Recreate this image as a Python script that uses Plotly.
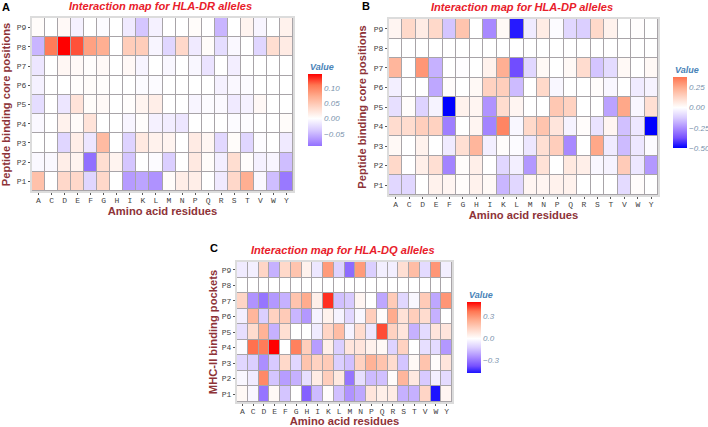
import plotly.graph_objects as go

residues = list("ACDEFGHIKLMNPQRSTVWY")
positions = ["P9", "P8", "P7", "P6", "P5", "P4", "P3", "P2", "P1"]

dr_values = [
    [0.3, 0, 0.5, -1, 0, -0.3, 0, -1.5, -4, -1, 0, 0, 0.3, 0, -5, 0, 1, -0.7, 0, 1.2],
    [-5, 10.5, 14.5, 12, 8, 7, 0, 4.5, 4.5, -0.7, -3, 3.5, -1.5, 0.3, -2.5, -0.5, 0, -3, 3, 1.8],
    [-1.8, 0, 0.7, 0.5, 0.2, 0.5, 0, 0.6, -0.8, 0, -0.6, 0, -0.6, -2, 0, -1.2, 0, 0, 0, 0],
    [-1, 0, 0, 0.2, 0.3, 0.2, 0, 0, -0.3, -0.3, 0, 0, 0, 0, -1, -0.5, -0.3, 0, 0, 0],
    [-2.5, 0, -1.8, 2.5, 0.3, 0.5, 0, 0.2, 1, 1.5, 0, 0, -0.7, -0.3, -0.4, -1.5, -1, 0.6, 0, 0],
    [-0.5, 0, 1.2, 0.4, 2.5, 0, 0, -0.7, 0.2, -1, -1.3, -1.8, 0, 0, 0, -0.3, -0.2, 0, 0, 0.3],
    [0, 0, -3, 1.5, -1.8, 6, 0, -3.2, 2, 1.2, 1, 0, 1.8, 0.8, -2.8, 0.3, -3, -0.2, 0, -1.5],
    [-0.5, -0.5, 1.5, 1, -9, 3, 1, -4, 0, -0.3, -3.5, 0, 2, 0.3, -1.2, 3, 0.2, -1, -0.7, -4.5],
    [5.5, 0, 3.5, 3.5, -3, 3.5, 0, -6.5, -6, -7, 0.3, 1.5, 1.5, 0, -1.5, 3.5, 7, -0.5, -4.5, -8.5],
]
dp_values = [
    [3, 12, 6, 12, -14, 18, 0, -26, 2, -46, -5, 6, -1, -10, -12, 12, 4, 0, 0.5, 0],
    [0] * 20,
    [22, 0, 30, -18, 0, -0.5, 0, 4, 24, -38, -10, 2, 0, 2, 11, -14, -9, 2, 0, 2],
    [-4, 0, 0, -20, 1, 0, 2, 14, 15, -16, 0, 12, -2, 0, 0, 1, -2, 0, -5, -3],
    [-8, 1, -11, -3, -50, 4, 3, -24, 11, 3, 0, 0, 17, 14, 0, 0, -21, 26, -2, 10],
    [11, 11, 15, 14, -28, 0, 3, -27, 34, -2, 12, 18, 8, -3, 1, -7, 3, -15, -6, -50],
    [2, 0, 4, 0, -5, 10, 22, -4, 1, -1, -6, 10, 15, -26, 0, 26, -5, -16, -6, -1],
    [12, 0, 5, 10, -27, 1, 5, 0, -10, -4, -23, 9, 0, 7, 5, -2, -3, 16, -6, -23],
    [-10, -10, 0, 4, 3, 1, 4, 2, -17, -10, 3, 3, 4, 4, 0, 0, 0, -9, 1, 0],
]
dq_values = [
    [-5, -4, 13, -18, 12, 18, 4, -6, 29, -11, -32, 29, -12, -4, -4, 10, 20, -9, 30, -4],
    [0] * 20,
    [13, -24, -30, -23, -18, 18, 25, 5, 45, -15, -13, 3, 0, -20, 16, -10, -2, 16, -20, 30],
    [-4, 22, -12, 14, 16, -17, -23, -3, 4, -3, -10, -2, 15, 1, 25, 9, 15, 11, -18, 0],
    [-8, 11, 23, -18, 10, 0, 0, -5, 13, 20, -3, 11, -6, 42, 14, 8, -18, -9, 8, 8],
    [-1, 38, 36, 50, 0, 35, 15, -22, 5, -12, 8, 8, 4, 2, -11, 14, 0, -8, -9, -23],
    [-10, -12, -25, -13, 12, -10, 18, 14, 16, -12, -15, 14, 23, 18, 11, -14, 2, 18, 1, 8],
    [-2, -5, 33, -14, -22, -18, -8, 6, 15, 7, -30, -8, -16, -15, 1, 22, 7, -13, -4, -9],
    [2, -2, -30, 2, -14, 0, -34, -16, 1, -15, -24, -20, 8, 5, 6, -18, -18, 13, -47, 3],
]

W, H = 708, 427
RAMP = [(-1, (0, 0, 255)), (-0.75, (118, 80, 255)), (-0.5, (172, 142, 255)), (-0.25, (218, 205, 255)),
        (0, (255, 255, 255)), (0.25, (255, 215, 200)), (0.5, (255, 172, 142)), (0.75, (255, 118, 82)), (1, (255, 0, 0))]


def color_at(t):
    for (a, ca), (b, cb) in zip(RAMP, RAMP[1:]):
        if a <= t <= b:
            f = (t - a) / (b - a)
            return "rgb(%d,%d,%d)" % tuple(round(x + (y - x) * f) for x, y in zip(ca, cb))
    return "rgb(255,255,255)"


def scale_for(lo, hi):
    m = max(abs(lo), abs(hi))
    ts = sorted({lo / m, hi / m} | {r[0] for r in RAMP if lo / m < r[0] < hi / m})
    return [[(t * m - lo) / (hi - lo), color_at(t)] for t in ts]


panels = [
    dict(z=dr_values, unit=0.01, box=(32, 293, 18, 191), cb=(308, 322, 74, 146), rng=(-0.09, 0.145),
         ticks=[-0.05, 0, 0.05, 0.10], fmt=".2f", title="Interaction map for HLA-DR alleles", tx=160, ty=6,
         ytitle="Peptide binding core positions", xtitle="Amino acid residues", letter="A", lx=6, ly=7, ystand=5),
    dict(z=dp_values, unit=0.01, box=(389, 658, 19, 195), cb=(673, 687, 77, 148), rng=(-0.5, 0.38),
         ticks=[-0.5, -0.25, 0, 0.25], fmt=".2f", title="Interaction map for HLA-DP alleles", tx=522, ty=7,
         ytitle="Peptide binding core positions", xtitle="Amino acid residues", letter="B", lx=366, ly=6, ystand=5),
    dict(z=dq_values, unit=0.01, box=(237, 452, 262, 402), cb=(467, 481, 302, 373), rng=(-0.47, 0.5),
         ticks=[-0.3, 0, 0.3], fmt=".1f", title="Interaction map for HLA-DQ alleles", tx=343, ty=250,
         ytitle="MHC-II binding pockets", xtitle="Amino acid residues", letter="C", lx=214, ly=248, ystand=2),
]

BROWN = "#8e3338"
fig = go.Figure()
annots = []
layout = {}
for i, p in enumerate(panels, 1):
    x0, x1, y0, y1 = p["box"]
    cx0, cx1, cy0, cy1 = p["cb"]
    xa, ya = f"x{i}", f"y{i}"
    fig.add_trace(go.Heatmap(
        z=[[v * p["unit"] for v in row] for row in p["z"]],
        x=residues, y=positions, xaxis=xa, yaxis=ya, xgap=1, ygap=1,
        zmin=p["rng"][0], zmax=p["rng"][1], colorscale=scale_for(*p["rng"]),
        hovertemplate="%{x} %{y}: %{z}<extra></extra>",
        colorbar=dict(
            x=cx0 / W, xanchor="left", xpad=0, ypad=0, y=1 - cy1 / H, yanchor="bottom",
            len=(cy1 - cy0) / H, lenmode="fraction", thickness=cx1 - cx0, thicknessmode="pixels",
            outlinewidth=0, ticks="", tickvals=p["ticks"], tickformat=p["fmt"],
            tickfont=dict(family="Liberation Sans", size=8, style="italic", color="#7a93ad"),
        ),
    ))
    suffix = "" if i == 1 else str(i)
    layout["xaxis" + suffix] = dict(
        domain=[x0 / W, x1 / W], anchor=ya, categoryorder="array", categoryarray=residues,
        ticks="outside", ticklen=2, tickcolor="#555", tickwidth=1, automargin=False, ticklabelstandoff=-2,
        tickfont=dict(family="Liberation Mono", size=8, color="#444"), tickangle=0,
        showline=True, mirror=True, linecolor="#dcdcdc", linewidth=2, showgrid=False, zeroline=False,
        title=dict(text=p["xtitle"], font=dict(family="Liberation Sans", size=11.2, color=BROWN, weight="bold"), standoff=0),
    )
    layout["yaxis" + suffix] = dict(
        domain=[1 - y1 / H, 1 - y0 / H], anchor=xa, categoryorder="array", categoryarray=positions[::-1],
        ticks="outside", ticklen=2, tickcolor="#555", tickwidth=1, automargin=False,
        tickfont=dict(family="Liberation Mono", size=8, color="#444"),
        showline=True, mirror=True, linecolor="#dcdcdc", linewidth=2, showgrid=False, zeroline=False,
        title=dict(text=p["ytitle"], font=dict(family="Liberation Sans", size=11.2, color=BROWN, weight="bold"), standoff=p["ystand"]),
    )
    annots.append(dict(text=p["title"], x=p["tx"] / W, y=1 - p["ty"] / H, xref="paper", yref="paper", showarrow=False,
                       xanchor="center", yanchor="middle",
                       font=dict(family="Liberation Sans", size=11.1, color="#e8202a", weight="bold", style="italic")))
    annots.append(dict(text=p["letter"], x=p["lx"] / W, y=1 - p["ly"] / H, xref="paper", yref="paper", showarrow=False,
                       xanchor="center", yanchor="middle",
                       font=dict(family="Liberation Sans", size=11, color="black", weight="bold")))
    annots.append(dict(text="Value", x=cx0 / W, y=1 - (cy0 - 7) / H, xref="paper", yref="paper", showarrow=False,
                       xanchor="left", yanchor="middle",
                       font=dict(family="Liberation Sans", size=9, color="#4a83b8", weight="bold", style="italic")))

fig.update_layout(
    width=W, height=H, margin=dict(l=0, r=0, t=0, b=0), paper_bgcolor="white", plot_bgcolor="#a8a4a8",
    annotations=annots, showlegend=False, **layout,
)
fig.write_html("out.html", config={"displayModeBar": False}, post_script="document.body.style.margin='0';")
